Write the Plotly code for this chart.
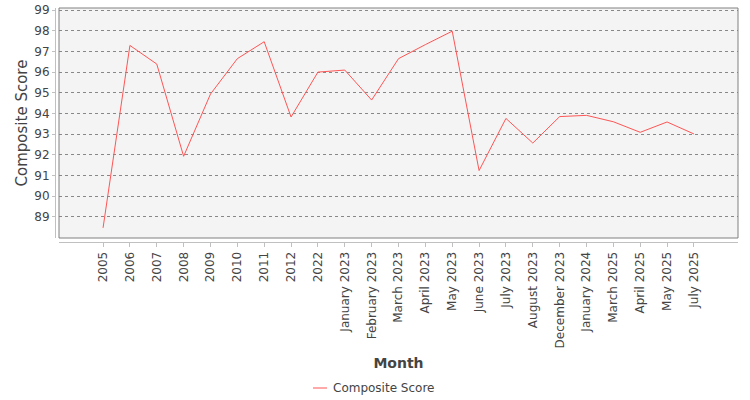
import plotly.graph_objects as go

# values
months = [
    "2005", "2006", "2007", "2008", "2009", "2010", "2011", "2012", "2022",
    "January 2023", "February 2023", "March 2023", "April 2023", "May 2023",
    "June 2023", "July 2023", "August 2023", "December 2023", "January 2024",
    "March 2025", "April 2025", "May 2025", "July 2025",
]
composite_score = [
    88.47, 97.29, 96.39, 91.93, 94.94, 96.65, 97.47, 93.83, 96.0,
    96.1, 94.65, 96.65, 97.33, 97.98,
    91.24, 93.76, 92.57, 93.85, 93.91,
    93.6, 93.09, 93.59, 93.01,
]
y_ticks = list(range(89, 100))
series_name = "Composite Score"

W, H = 750, 400
M_L, M_R, M_T, M_B = 55, 12, 8, 158
AX_GAP = 4
plot_w = W - M_L - M_R
plot_h = H - M_T - M_B

FONT = "DejaVu Sans"
TXT = "#444444"
LINE_RED = "#ff5555"


def px_to_paper(px, py):
    # pixel position on the page -> paper coords of the plot area
    return (px - M_L) / plot_w, ((H - M_B) - py) / plot_h


fig = go.Figure()
fig.add_trace(go.Scatter(
    x=months, y=composite_score, mode="lines",
    name=series_name,
    line=dict(color=LINE_RED, width=1),
    showlegend=False,
))

n = len(months)
pad = 1.64

fig.update_layout(
    width=W, height=H,
    margin=dict(l=M_L, r=M_R, t=M_T, b=M_B, autoexpand=False),
    paper_bgcolor="white",
    plot_bgcolor="#f4f4f4",
    font=dict(family=FONT, size=12, color=TXT),
    xaxis=dict(
        type="category",
        domain=[AX_GAP / plot_w, 1],
        range=[-pad, n - 1 + pad],
        anchor="free", position=0,
        automargin=False,
        showgrid=False, zeroline=False,
        showline=True, linecolor="#c0c0c0", linewidth=1,
        ticks="outside", ticklen=4, tickcolor="#c0c0c0",
        tickangle=-90,
        tickfont=dict(size=12, color=TXT),
        title=dict(text="<b>Month</b>", font=dict(size=14, color=TXT), standoff=10),
    ),
    yaxis=dict(
        domain=[AX_GAP / plot_h, 1],
        range=[87.98, 99.1],
        anchor="free", position=0,
        automargin=False,
        tickvals=y_ticks,
        showgrid=True, gridcolor="#888888", gridwidth=1, griddash="dot",
        zeroline=False,
        showline=True, linecolor="#c0c0c0", linewidth=1,
        ticks="outside", ticklen=3, tickcolor="#c0c0c0",
        tickfont=dict(size=12, color=TXT),
        title=dict(text="Composite Score", font=dict(size=15, color=TXT), standoff=2),
    ),
)

# plot frame
fig.add_shape(
    type="rect", xref="x domain", yref="y domain",
    x0=0, x1=1, y0=0, y1=1,
    line=dict(color="#808080", width=1),
    layer="above",
)

# legend drawn by hand: plotly's line swatch is too long
lx0, ly = px_to_paper(313, 388)
lx1, _ = px_to_paper(327, 388)
tx, _ = px_to_paper(331, 388)
fig.add_shape(
    type="line", xref="paper", yref="paper",
    x0=lx0, x1=lx1, y0=ly, y1=ly,
    line=dict(color=LINE_RED, width=1),
)
fig.add_annotation(
    xref="paper", yref="paper", x=tx, y=ly,
    xanchor="left", yanchor="middle", showarrow=False,
    text=series_name, font=dict(size=12, color=TXT),
)

# browser default body margin would shift the 750x400 figure by 8px
fig.write_html(
    "out.html",
    config={"displayModeBar": False},
    post_script="document.body.style.margin='0';",
)
